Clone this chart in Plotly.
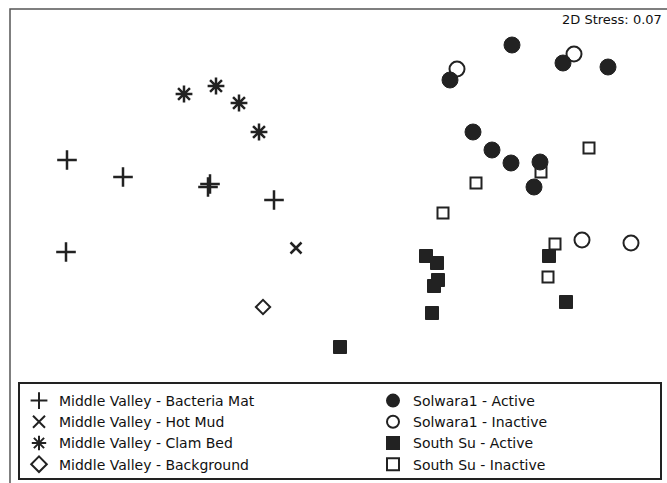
import plotly.graph_objects as go

# NMDS ordination coordinates (arbitrary units, y downward)
bact_x = [67, 123, 210, 208, 274, 66]
bact_y = [160, 177, 184, 187, 200, 252]
mud_x = [296]
mud_y = [248]
clam_x = [184, 216, 239, 259]
clam_y = [94, 86, 103, 132]
bg_x = [263]
bg_y = [307]
sol_act_x = [512, 563, 608, 450, 473, 492, 511, 540, 534]
sol_act_y = [45, 63, 67, 80, 132, 150, 163, 162, 187]
sol_ina_x = [457, 574, 582, 631]
sol_ina_y = [69, 54, 240, 243]
ss_act_x = [426, 437, 438, 434, 432, 340, 549, 566]
ss_act_y = [256, 263, 280, 286, 313, 347, 256, 302]
ss_ina_x = [589, 541, 476, 443, 555, 548]
ss_ina_y = [148, 172, 183, 213, 244, 277]

stress_label = "2D Stress: 0.07"

dark = "#222222"
FONT = "DejaVu Sans, Arial"
W, H = 667, 483

fig = go.Figure()

def add(name, xs, ys, symbol, size, lw=2, legend="legend"):
    fig.add_trace(go.Scatter(
        x=xs, y=ys, mode="markers", name=name, legend=legend,
        marker=dict(symbol=symbol, size=size, color=dark,
                    line=dict(color=dark, width=lw)),
    ))

add("Middle Valley - Bacteria Mat", bact_x, bact_y, "cross-thin-open", 14, lw=2.5)
add("Middle Valley - Hot Mud", mud_x, mud_y, "x-thin-open", 11, lw=2.5)
add("Middle Valley - Clam Bed", clam_x, clam_y, "asterisk-open", 14, lw=2.5)
add("Middle Valley - Background", bg_x, bg_y, "diamond-open", 11)
add("Solwara1 - Active", sol_act_x, sol_act_y, "circle", 16, lw=1, legend="legend2")
add("Solwara1 - Inactive", sol_ina_x, sol_ina_y, "circle-open", 15, legend="legend2")
add("South Su - Active", ss_act_x, ss_act_y, "square", 13, lw=1, legend="legend2")
add("South Su - Inactive", ss_ina_x, ss_ina_y, "square-open", 11, legend="legend2")

# outer frame
fig.add_shape(type="rect", xref="x", yref="y", x0=10, y0=9, x1=670, y1=495,
              line=dict(color="#555555", width=1.5), layer="below")
# legend box
fig.add_shape(type="rect", xref="x", yref="y", x0=19, y0=383, x1=661, y1=479,
              line=dict(color="#222222", width=2), fillcolor="white", layer="below")

fig.add_annotation(x=664, y=19, xref="x", yref="y", text=stress_label,
                   showarrow=False, xanchor="right", yanchor="middle",
                   font=dict(family=FONT, size=13, color="#111"))

leg_common = dict(
    xanchor="left", yanchor="top", bgcolor="rgba(0,0,0,0)", borderwidth=0,
    font=dict(family=FONT, size=14, color="#111"), itemsizing="constant",
    tracegroupgap=0,
)
leg_top = 1 - 385 / H
fig.update_layout(
    width=W, height=H,
    margin=dict(l=0, r=0, t=0, b=0),
    plot_bgcolor="white", paper_bgcolor="white",
    xaxis=dict(range=[0, W], visible=False, fixedrange=True),
    yaxis=dict(range=[H, 0], visible=False, fixedrange=True),
    showlegend=True,
    legend=dict(x=19 / W, y=leg_top, **leg_common),
    legend2=dict(x=373 / W, y=leg_top, **leg_common),
)

fig.write_html(
    "out.html",
    config={"displayModeBar": False},
    post_script="document.body.style.margin='0';document.body.style.overflow='hidden';",
)
